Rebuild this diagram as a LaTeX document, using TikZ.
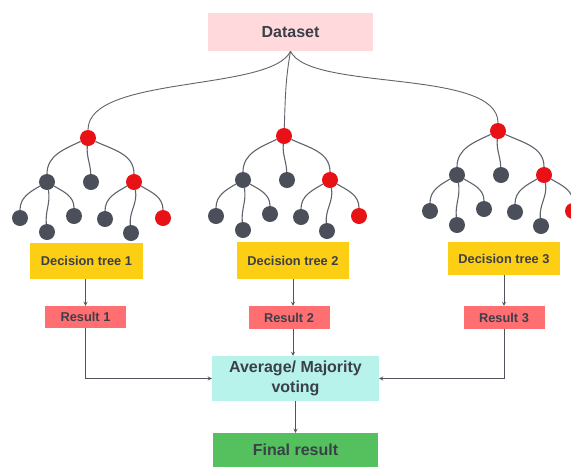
\documentclass[tikz,border=0pt]{standalone}
\usepackage{fontspec}
\setmainfont{Liberation Sans}
\usepackage{xcolor}
\usetikzlibrary{arrows,positioning,calc}

\definecolor{txtgray}{RGB}{59,63,73}
\definecolor{datapink}{RGB}{255,217,219}
\definecolor{treeyellow}{RGB}{252,206,20}
\definecolor{resred}{RGB}{255,111,113}
\definecolor{avgcyan}{RGB}{183,243,234}
\definecolor{finalgreen}{RGB}{85,193,94}
\definecolor{nodered}{RGB}{232,17,22}
\definecolor{nodegray}{RGB}{74,79,90}
\definecolor{edgegray}{RGB}{95,99,108}
\definecolor{arrowgray}{RGB}{80,84,94}

\begin{document}
\begin{tikzpicture}[
    x=1pt, y=1pt,
    node distance=56pt,
    box/.style={rectangle, inner sep=0pt, text=txtgray, font=\bfseries\fontsize{12.8}{15}\selectfont},
    bigbox/.style={box, align=center, font=\bfseries\fontsize{16}{19.5}\selectfont},
    leaf/.style={circle, fill=nodegray, minimum size=16pt, inner sep=0pt},
    split/.style={leaf, fill=nodered},
    branch/.style={draw=edgegray, line width=1.1pt},
    arrow/.style={->, >=stealth, draw=arrowgray, line width=0.8pt}
]
    \useasboundingbox (0,0) rectangle (571,-467);

    \node[bigbox, fill=datapink, minimum width=165pt, minimum height=38pt] (data) at (290.5,-32) {Dataset};

    % three trees
    \foreach \t/\x/\y in {1/88/138, 2/284/136, 3/498/131} {
        \begin{scope}[shift={(\x,-\y)}]
            \node[split] (r\t) at (0,0) {};
            \node[leaf] (a\t) at (-41,-44) {};
            \node[leaf] (b\t) at (3,-44) {};
            \node[split] (c\t) at (46,-44) {};
            \node[leaf] (a\t1) at (-68,-80) {};
            \node[leaf] (a\t2) at (-41,-94) {};
            \node[leaf] (a\t3) at (-14,-78) {};
            \node[leaf] (c\t1) at (17,-81) {};
            \node[leaf] (c\t2) at (43,-95) {};
            \node[split] (c\t3) at (75,-80) {};

            \draw[branch] (r\t) to[out=-155, in=90] (a\t);
            \draw[branch] (r\t) to[out=-95, in=92] (b\t);
            \draw[branch] (r\t) to[out=-25, in=90] (c\t);
            \draw[branch] (a\t) to[out=-150, in=90] (a\t1);
            \draw[branch] (a\t) to[out=-80, in=95] (a\t2);
            \draw[branch] (a\t) to[out=-30, in=90] (a\t3);
            \draw[branch] (c\t) to[out=-150, in=90] (c\t1);
            \draw[branch] (c\t) to[out=-80, in=95] (c\t2);
            \draw[branch] (c\t) to[out=-30, in=90] (c\t3);
        \end{scope}
    }

    \draw[branch, line width=0.9pt] (data.south) to[out=-115, in=90, out distance=45pt, in distance=55pt] (r1);
    \draw[branch, line width=0.9pt] (data.south) to[out=-100, in=88] (r2);
    \draw[branch, line width=0.9pt] (data.south) to[out=-65, in=90, out distance=45pt, in distance=55pt] (r3);

    \node[box, fill=treeyellow, minimum width=113pt, minimum height=36pt] (dt1) at (86.5,-261) {Decision tree 1};
    \node[box, fill=treeyellow, minimum width=112pt, minimum height=37pt] (dt2) at (293,-260.5) {Decision tree 2};
    \node[box, fill=treeyellow, minimum width=112pt, minimum height=33pt] (dt3) at (504,-258.5) {Decision tree 3};

    \node[box, fill=resred, minimum width=81pt, minimum height=22pt, below of=dt1, xshift=-1pt] (res1) {Result 1};
    \node[box, fill=resred, minimum width=81pt, minimum height=23pt, below of=dt2, xshift=-4pt, yshift=-1pt] (res2) {Result 2};
    \node[box, fill=resred, minimum width=81pt, minimum height=23pt, below of=dt3, yshift=-3pt] (res3) {Result 3};

    \node[bigbox, fill=avgcyan, minimum width=167pt, minimum height=45pt] (avg) at (295.5,-378.5) {Average/ Majority\\voting};
    \node[bigbox, fill=finalgreen, minimum width=165pt, minimum height=34pt] (final) at (295.5,-450) {Final result};

    \draw[arrow] (dt1.south -| res1.north) -- (res1.north);
    \draw[arrow] (dt2.south) -- (dt2.south |- res2.north);
    \draw[arrow] (dt3.south) -- (dt3.south |- res3.north);
    \draw[arrow] (res1.south) |- (avg.west);
    \draw[arrow] (res3.south) |- (avg.east);
    \draw[arrow] (dt2.south |- res2.south) -- (dt2.south |- avg.north);
    \draw[arrow] (avg.south) -- (final.north);
\end{tikzpicture}
\end{document}
